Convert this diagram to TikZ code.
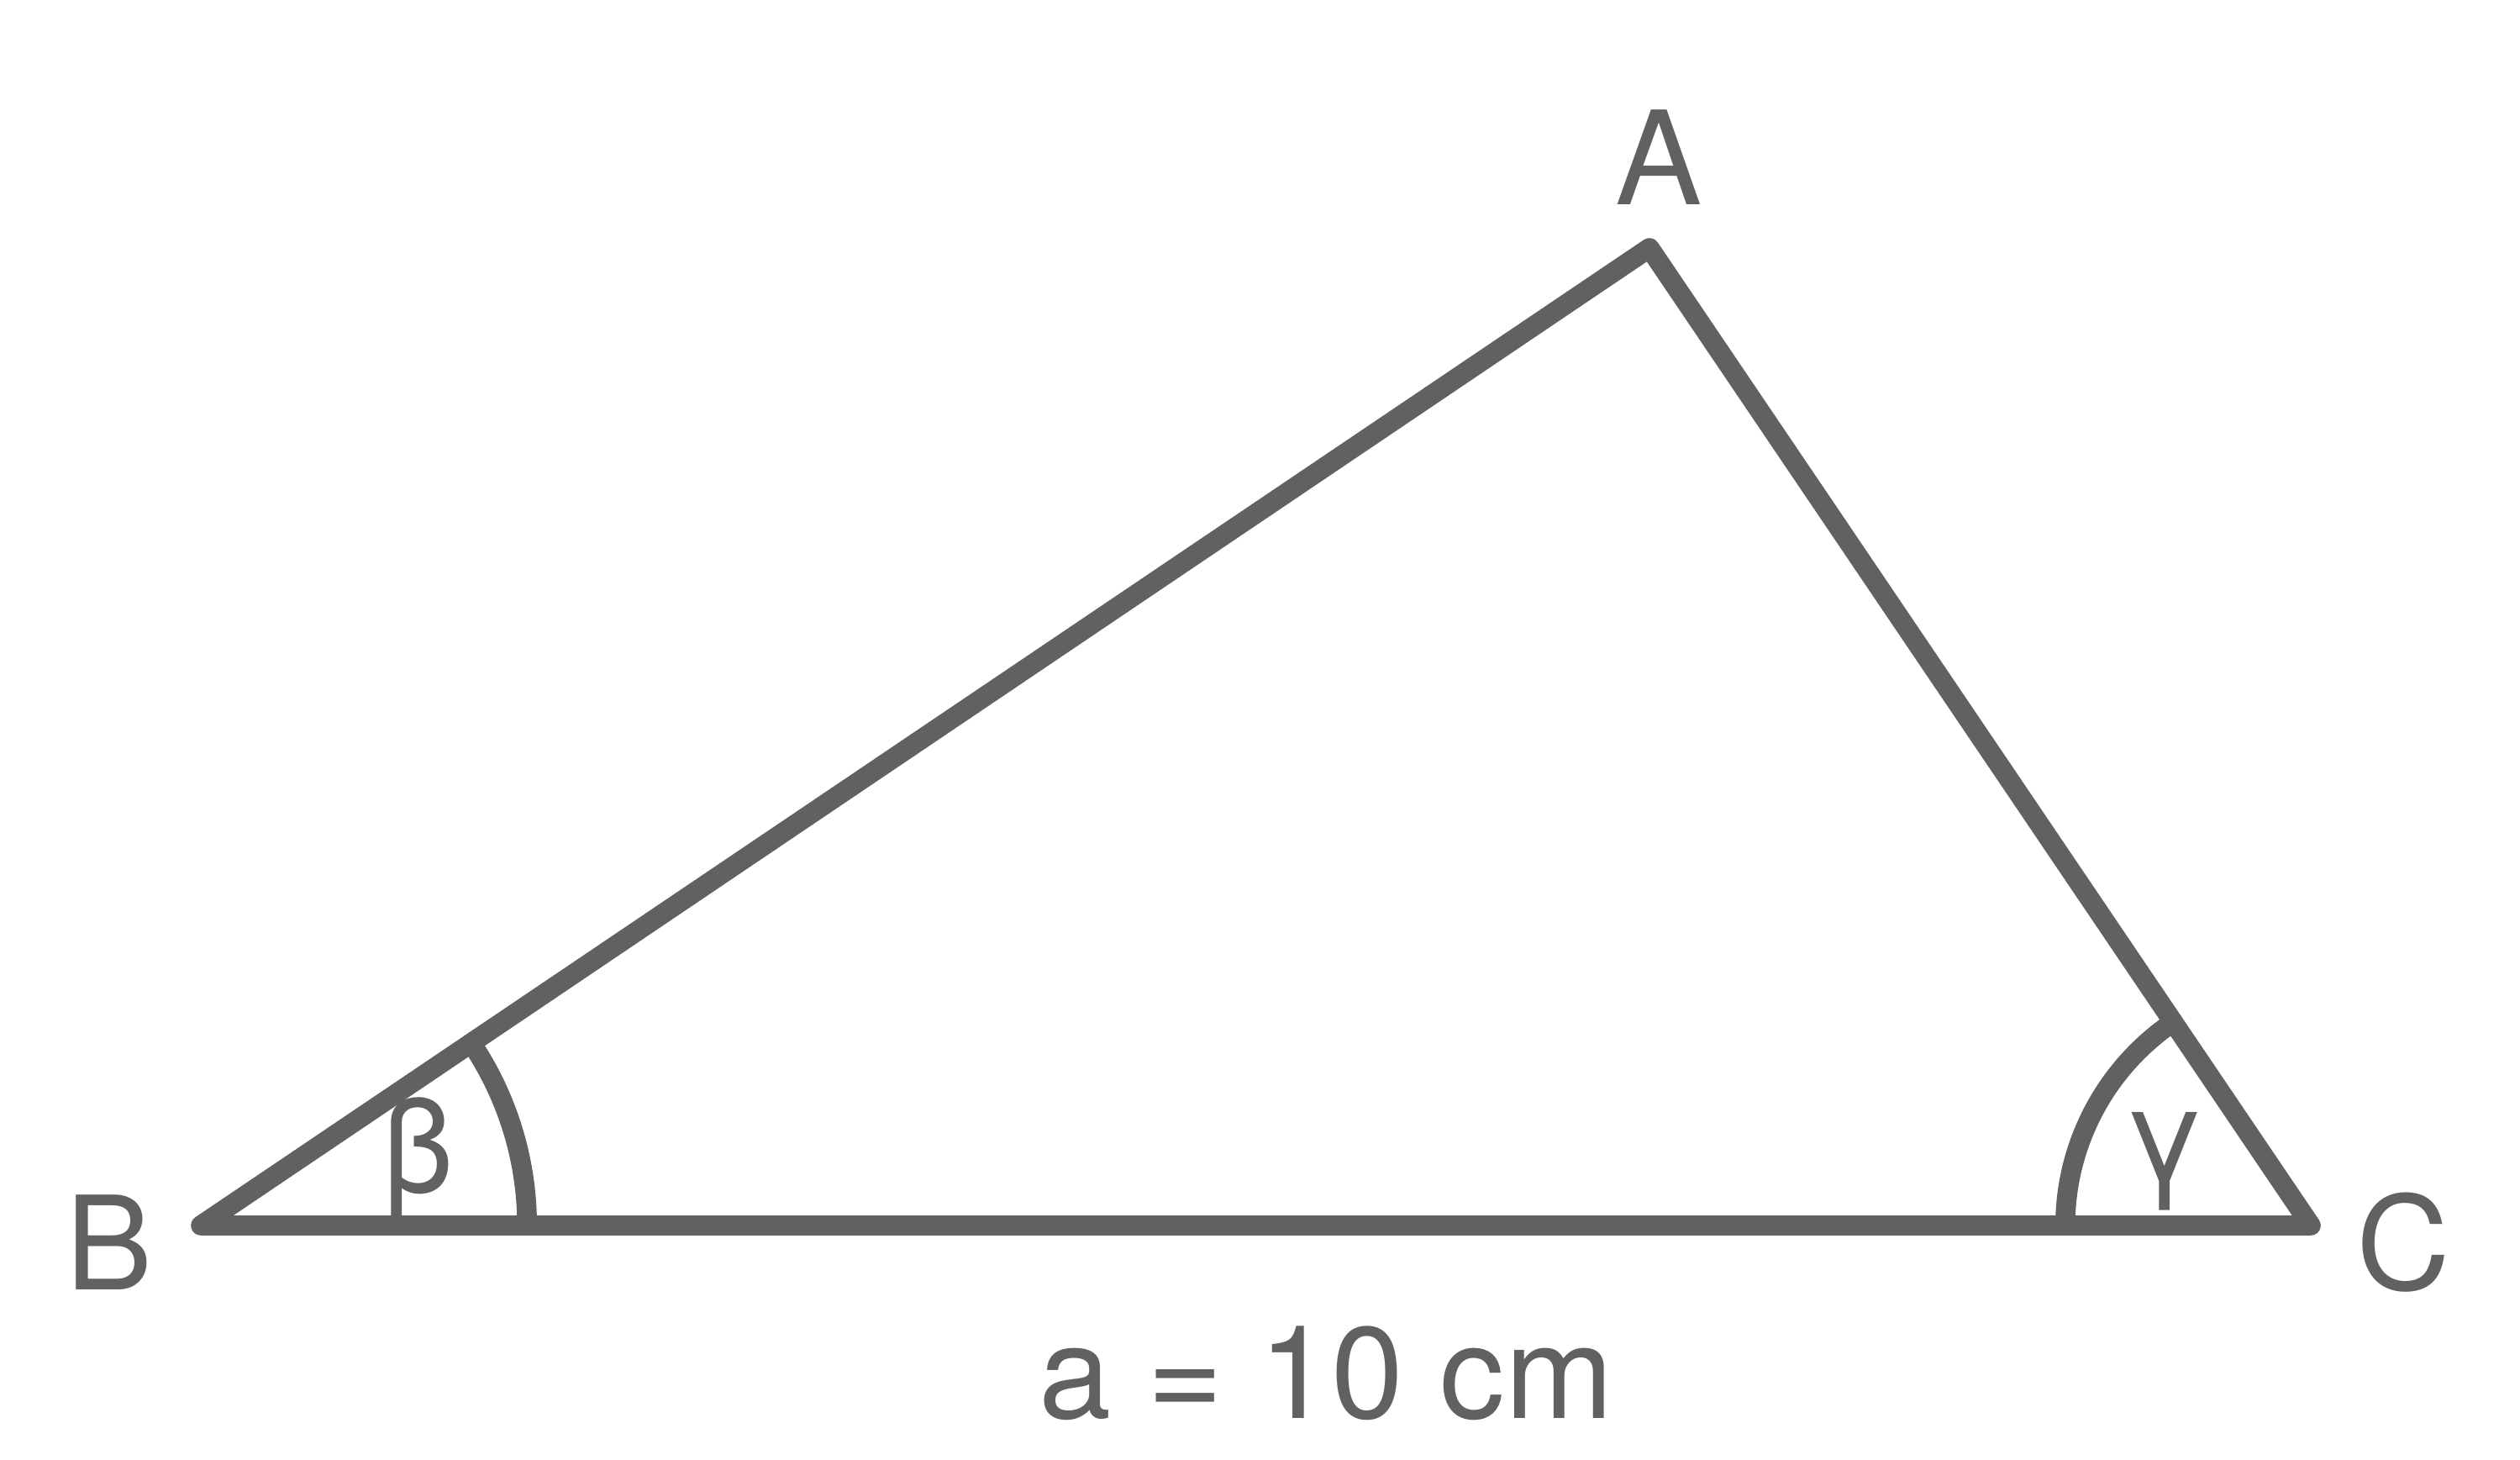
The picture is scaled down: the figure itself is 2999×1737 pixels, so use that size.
\documentclass[tikz,border=0pt]{standalone}
\usepackage{fontspec}
\setmainfont{TeX Gyre Heros}
\usepackage{tikz}
\usetikzlibrary{positioning, calc}
\definecolor{linegray}{RGB}{97,97,97}

\begin{document}
\begin{tikzpicture}[x=0.01cm,y=0.01cm,draw=linegray,line width=6.7pt,line join=round,line cap=round]
	\def \baseht{279}
	\def \topht{1442}
	\tikzstyle{v-node}=[text=linegray,inner sep=0pt,font=\fontsize{44}{50}\selectfont]
	\tikzstyle{a-node}=[text=linegray,inner sep=0pt,font=\fontsize{44}{50}\selectfont]
	\useasboundingbox (0,0) rectangle (2999,1737);
	% corners
	\coordinate (B) at (239,\baseht);
	\coordinate (C) at (2750,\baseht);
	\coordinate (A) at (1963,\topht);
	% corner labels
	\node[v-node] (lA) at (1974,1550) {A};
	\node[v-node] (lB) at (130,259) {B};
	\node[v-node] (lC) at (2860,259) {C};
	% angle labels
	\node[a-node] (beta) at (497,357) {β};
	\node[a-node] (gamma) at (2576,355) {γ};
	% side label
	\node[v-node] (side) at (1578,103) {a = 10 cm};
	
	% triangle
	\draw (B) -- (C) -- (A) -- cycle;
	% angle arcs
	\draw ([xshift=3.88cm]B) arc[start angle=0,end angle=34.0,radius=3.88cm];
	\draw ([xshift=-2.92cm]C) arc[start angle=180,end angle=124.1,radius=2.92cm];
\end{tikzpicture}
\end{document}
